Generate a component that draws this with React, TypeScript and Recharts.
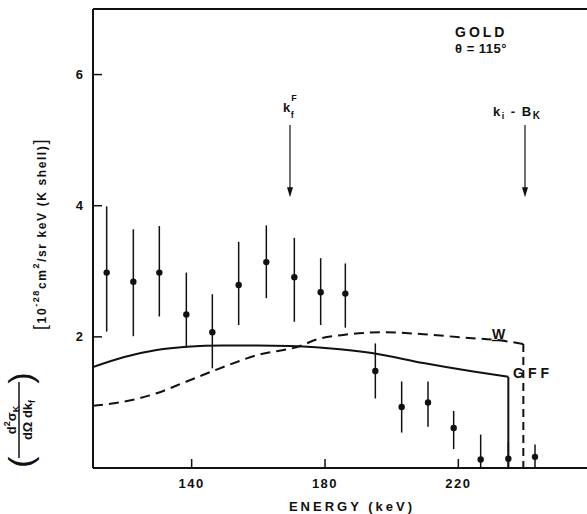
import React from 'react';
import {
  ComposedChart,
  Line,
  Scatter,
  ErrorBar,
  XAxis,
  YAxis,
  Label,
  ReferenceLine,
  ReferenceDot,
} from 'recharts';

// measured points, K shell, gold, theta = 115 deg
const energy = [114.5, 122.5, 130.3, 138.4, 146.2, 154.1, 162.4, 170.8, 178.7, 186.1, 195.1, 203.0, 210.9, 218.6, 226.7, 235.0, 243.0];
const sigma = [2.98, 2.84, 2.98, 2.34, 2.07, 2.79, 3.14, 2.91, 2.68, 2.66, 1.48, 0.93, 1.0, 0.61, 0.13, 0.14, 0.17];
const errTop = [3.99, 3.64, 3.69, 2.98, 2.65, 3.45, 3.7, 3.51, 3.2, 3.12, 1.9, 1.32, 1.32, 0.87, 0.51, 0.4, 0.36];
const errBottom = [2.08, 2.01, 2.31, 1.83, 1.52, 2.18, 2.59, 2.23, 2.18, 2.14, 1.06, 0.54, 0.63, 0.29, 0, 0, 0];

// GFF theory (solid), ends with a drop to zero at the endpoint
const gffEnergy = [110.4, 119.5, 129.5, 138.5, 149.5, 159.5, 169.5, 184.5, 194.5, 209.5, 224.5, 235.0];
const gffValue = [1.54, 1.69, 1.8, 1.85, 1.87, 1.87, 1.86, 1.81, 1.75, 1.6, 1.47, 1.39];

// W theory (dashed), same kind of drop at its endpoint
const wEnergy = [110.4, 119.5, 129.5, 138.5, 149.5, 159.5, 172.5, 177.5, 185.5, 197.5, 209.5, 221.5, 233.5, 239.5];
const wValue = [0.95, 1.01, 1.14, 1.32, 1.54, 1.72, 1.86, 1.96, 2.03, 2.07, 2.04, 1.99, 1.94, 1.89];

const xTicks = [140, 180, 220];
const yTicks = [2, 4, 6];

const INK = '#111';
const FONT = '"Liberation Sans", Arial, sans-serif';

const points = energy.map((x, i) => ({
  x,
  y: sigma[i],
  err: [sigma[i] - errBottom[i], errTop[i] - sigma[i]],
}));
const gffData = gffEnergy.map((x, i) => ({ x, y: gffValue[i] }));
const wData = wEnergy.map((x, i) => ({ x, y: wValue[i] }));
const dropOf = (xs: number[], ys: number[]) => [
  { x: xs[xs.length - 1], y: ys[ys.length - 1] },
  { x: xs[xs.length - 1], y: 0 },
];
const gffDrop = dropOf(gffEnergy, gffValue);
const wDrop = dropOf(wEnergy, wValue);

const textAt =
  (content: React.ReactNode, size = 13, spacing = 2) =>
  (p: any) => (
    <text x={p.cx} y={p.cy} fontSize={size} fontWeight="bold" fontFamily={FONT} fill={INK} letterSpacing={spacing}>
      {content}
    </text>
  );

const arrowHead = (p: any) => (
  <path d={`M${p.cx},${p.cy} l-3,-10 l6,0 z`} fill={INK} />
);

function XTitle(props: any) {
  const vb = props.viewBox;
  return (
    <text x={vb.x + 259} y={vb.y + 43} textAnchor="middle" fontSize={13} fontWeight="bold" fontFamily={FONT} fill={INK} letterSpacing={3}>
      ENERGY (keV)
    </text>
  );
}

function YTitle() {
  return (
    <g fontFamily={FONT} fontWeight="bold" fill={INK}>
      <g transform="translate(20, 420) rotate(-90)">
        <text x={-42} y={0} fontSize={34} fontWeight="normal" textAnchor="middle" dominantBaseline="central">(</text>
        <text x={42} y={0} fontSize={34} fontWeight="normal" textAnchor="middle" dominantBaseline="central">)</text>
        <text x={0} y={-4} fontSize={13} textAnchor="middle">
          d<tspan dy={-6} fontSize={9}>2</tspan>
          <tspan dy={6}>σ</tspan>
          <tspan dy={3} fontSize={9}>K</tspan>
        </text>
        <line x1={-38} x2={38} y1={-1} y2={-1} stroke={INK} strokeWidth={1.5} />
        <text x={0} y={12} fontSize={13} textAnchor="middle">
          dΩ dk<tspan dy={3} fontSize={9}>f</tspan>
        </text>
      </g>
      <g transform="translate(46, 234) rotate(-90)">
        <text x={0} y={0} fontSize={12} textAnchor="middle" letterSpacing={1.6}>
          <tspan fontSize={18} fontWeight="normal">[</tspan>
          <tspan>10</tspan>
          <tspan dy={-7} fontSize={9}>-28</tspan>
          <tspan dy={7}>cm</tspan>
          <tspan dy={-7} fontSize={9}>2</tspan>
          <tspan dy={7}>/sr keV (K shell)</tspan>
          <tspan fontSize={18} fontWeight="normal">]</tspan>
        </text>
      </g>
    </g>
  );
}

export default function App() {
  return (
    <div style={{ position: 'absolute', left: 0, top: 0, width: 587, height: 514, background: '#fff' }}>
      <ComposedChart width={587} height={514} margin={{ top: 9, right: 0, bottom: 0, left: 0 }}>
        <XAxis
          dataKey="x"
          type="number"
          domain={[110.4, 258.6]}
          allowDataOverflow
          ticks={xTicks}
          interval={0}
          height={46}
          tickSize={-9}
          tickMargin={20}
          axisLine={{ stroke: INK, strokeWidth: 2 }}
          tickLine={{ stroke: INK, strokeWidth: 1.5 }}
          tick={{ fill: INK, fontSize: 13, fontWeight: 'bold', fontFamily: FONT, letterSpacing: 1.5 }}
        >
          <Label content={XTitle} />
        </XAxis>
        <YAxis
          type="number"
          domain={[0, 7]}
          allowDataOverflow
          ticks={yTicks}
          interval={0}
          width={93}
          tickSize={-9}
          tickMargin={19}
          axisLine={{ stroke: INK, strokeWidth: 2 }}
          tickLine={{ stroke: INK, strokeWidth: 1.5 }}
          tick={{ fill: INK, fontSize: 13, fontWeight: 'bold', fontFamily: FONT }}
        >
          <Label content={YTitle} />
        </YAxis>

        <ReferenceLine y={7} stroke={INK} strokeWidth={2} />

        <Line data={wData} dataKey="y" type="monotone" stroke={INK} strokeWidth={2} strokeDasharray="10 6" dot={false} isAnimationActive={false} />
        <Line data={wDrop} dataKey="y" type="linear" stroke={INK} strokeWidth={2} strokeDasharray="8 5" dot={false} isAnimationActive={false} />
        <Line data={gffData} dataKey="y" type="monotone" stroke={INK} strokeWidth={2} dot={false} isAnimationActive={false} />
        <Line data={gffDrop} dataKey="y" type="linear" stroke={INK} strokeWidth={2} dot={false} isAnimationActive={false} />

        <Scatter
          data={points}
          dataKey="y"
          isAnimationActive={false}
          shape={(p: any) => <circle cx={p.cx} cy={p.cy} r={3.2} fill={INK} />}
        >
          <ErrorBar dataKey="err" direction="y" width={0} stroke={INK} strokeWidth={1.5} isAnimationActive={false} />
        </Scatter>

        {/* arrows */}
        <ReferenceLine segment={[{ x: 169.5, y: 5.23 }, { x: 169.5, y: 4.2 }]} stroke={INK} strokeWidth={1.2} />
        <ReferenceDot x={169.5} y={4.13} shape={arrowHead} />
        <ReferenceLine segment={[{ x: 240.0, y: 5.23 }, { x: 240.0, y: 4.2 }]} stroke={INK} strokeWidth={1.2} />
        <ReferenceDot x={240.0} y={4.13} shape={arrowHead} />

        {/* annotations */}
        <ReferenceDot x={219.0} y={6.57} shape={textAt('GOLD', 14, 3)} />
        <ReferenceDot x={219.0} y={6.33} shape={textAt('θ = 115°', 13, 0.5)} />
        <ReferenceDot
          x={167.4}
          y={5.43}
          shape={textAt(
            <>
              k<tspan dy={-11} fontSize={9}>F</tspan>
              <tspan dx={-7} dy={17} fontSize={9}>f</tspan>
            </>,
            13,
            1,
          )}
        />
        <ReferenceDot
          x={230.4}
          y={5.37}
          shape={textAt(
            <>
              k<tspan dy={3} fontSize={9}>i</tspan>
              <tspan dy={-3}> - B</tspan>
              <tspan dy={3} fontSize={10}>K</tspan>
            </>,
            13,
            1.5,
          )}
        />
        <ReferenceDot
          x={230.1}
          y={1.97}
          shape={textAt(<tspan textDecoration="underline">W</tspan>, 14, 0)}
        />
        <ReferenceDot x={236.4} y={1.37} shape={textAt('GFF', 14, 4)} />
      </ComposedChart>
    </div>
  );
}
